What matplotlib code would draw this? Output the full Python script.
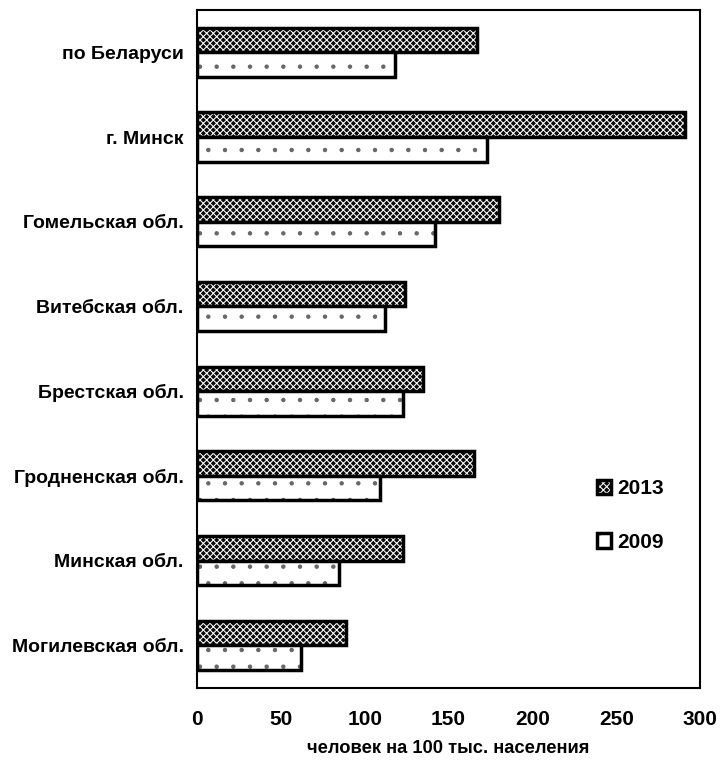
import matplotlib
matplotlib.use("Agg")
import matplotlib.pyplot as plt
import numpy as np
from matplotlib.patches import Patch
from matplotlib.legend_handler import HandlerTuple

categories = ["по Беларуси", "г. Минск", "Гомельская обл.", "Витебская обл.",
              "Брестская обл.", "Гродненская обл.", "Минская обл.", "Могилевская обл."]
values_2013 = [167, 291, 180, 124, 135, 165, 123, 89]
values_2009 = [118, 173, 142, 112, 123, 109, 85, 62]
series_labels = ["2013", "2009"]
xticks = [0, 50, 100, 150, 200, 250, 300]

plt.rcParams['font.family'] = ['Liberation Sans', 'DejaVu Sans']
plt.rcParams['font.weight'] = 'bold'
plt.rcParams['hatch.linewidth'] = 0.75

fig = plt.figure(figsize=(7.24, 7.65), dpi=100)
ax = fig.add_axes([0.272, 0.101, 0.695, 0.886])

n = len(categories)
y = np.arange(n)
h = 0.29

dark = dict(facecolor='#0a0a0a', edgecolor='white', hatch='xxxxx', linewidth=0)
light = dict(facecolor='white', edgecolor='#666666', hatch='.', linewidth=0)

ax.barh(y - h/2, values_2013, height=h, **dark)
ax.barh(y - h/2, values_2013, height=h, fill=False, edgecolor='black', linewidth=2.5)
ax.barh(y + h/2, values_2009, height=h, **light)
ax.barh(y + h/2, values_2009, height=h, fill=False, edgecolor='black', linewidth=2.5)

ax.set_ylim(n - 0.5, -0.5)
ax.set_xlim(0, 295)
ax.set_yticks(y)
ax.set_yticklabels(categories, fontsize=14, fontweight='bold')
ax.set_xticks(xticks)
ax.set_xticklabels([str(t) for t in xticks], fontsize=15, fontweight='bold')
ax.tick_params(axis='y', length=0, pad=9.5)
ax.tick_params(axis='x', length=0, pad=16)
for s in ax.spines.values():
    s.set_linewidth(1.5)
ax.set_xlabel("человек на 100 тыс. населения", fontsize=13.2, fontweight='bold', labelpad=8)

h13 = (Patch(**dark), Patch(fill=False, edgecolor='black', linewidth=2.5))
h09 = (Patch(**light), Patch(fill=False, edgecolor='black', linewidth=2.5))
leg = ax.legend([h13, h09], series_labels, handler_map={tuple: HandlerTuple(ndivide=1)},
                loc='center left', bbox_to_anchor=(0.757, 0.254), frameon=False,
                handlelength=0.7, handleheight=0.7, handletextpad=0.3,
                labelspacing=1.65, prop={'size': 15, 'weight': 'bold'})

fig.savefig("out.png", dpi=100)
